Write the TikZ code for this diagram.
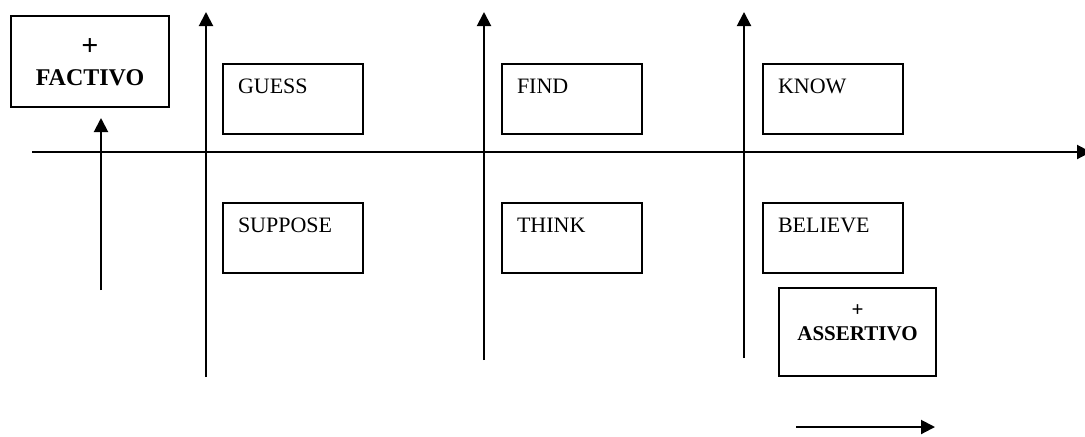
\documentclass[tikz,border=0pt]{standalone}
\usepackage{fontspec}
\setmainfont{Liberation Serif}
\usetikzlibrary{arrows.meta,positioning}

\begin{document}
\begin{tikzpicture}[
  x=0.5pt, y=-0.5pt,
  verb/.style={draw, line width=1pt, anchor=north west, text width=55pt,
    inner xsep=7.5pt, inner ysep=0pt, align=left,
    text height=14.5pt, text depth=20.25pt, font=\fontsize{11}{13}\selectfont},
  feature/.style={draw, line width=1pt, anchor=base, inner sep=0pt},
  axis/.style={line width=1pt, -{Triangle[length=7pt,width=7pt]}}
]
\useasboundingbox (0,0) rectangle (1085,436);

% the two features
\node[feature, minimum width=79pt, text height=34.5pt, text depth=11pt,
  font=\fontsize{12}{14}\bfseries\selectfont] (factivo) at (90,85)
  {\shortstack{{\fontsize{15}{15}\selectfont+}\\[3.6pt]FACTIVO}};
\node[feature, minimum width=78.5pt, text height=26pt, text depth=18pt,
  font=\fontsize{10.5}{12}\bfseries\selectfont] (assertivo) at (857.5,340)
  {\shortstack{+\\[1.8pt]ASSERTIVO}};

% verbs above and below the line
\node[verb] (guess) at (222,63) {GUESS};
\node[verb] (find) at (501,63) {FIND};
\node[verb] (know) at (762,63) {KNOW};
\node[verb] (suppose) at (222,202) {SUPPOSE};
\node[verb] (think) at (501,202) {THINK};
\node[verb] (believe) at (762,202) {BELIEVE};

% axes
\coordinate (h-start) at (32,152);
\coordinate (h-end) at (1091,152);
\coordinate (v1-bot) at (206,377);
\coordinate (v1-top) at (206,12);
\coordinate (v2-bot) at (484,360);
\coordinate (v2-top) at (484,12);
\coordinate (v3-bot) at (744,358);
\coordinate (v3-top) at (744,12);
\coordinate (f-tail) at (101,290);
\coordinate (a-tail) at (796,427);
\coordinate (a-head) at (935,427);

\draw[axis] (h-start) -- (h-end);
\draw[axis] (v1-bot) -- (v1-top);
\draw[axis] (v2-bot) -- (v2-top);
\draw[axis] (v3-bot) -- (v3-top);
\draw[axis, shorten >=5pt] (f-tail) -- (f-tail |- factivo.south);
\draw[axis] (a-tail) -- (a-head);
\end{tikzpicture}
\end{document}
